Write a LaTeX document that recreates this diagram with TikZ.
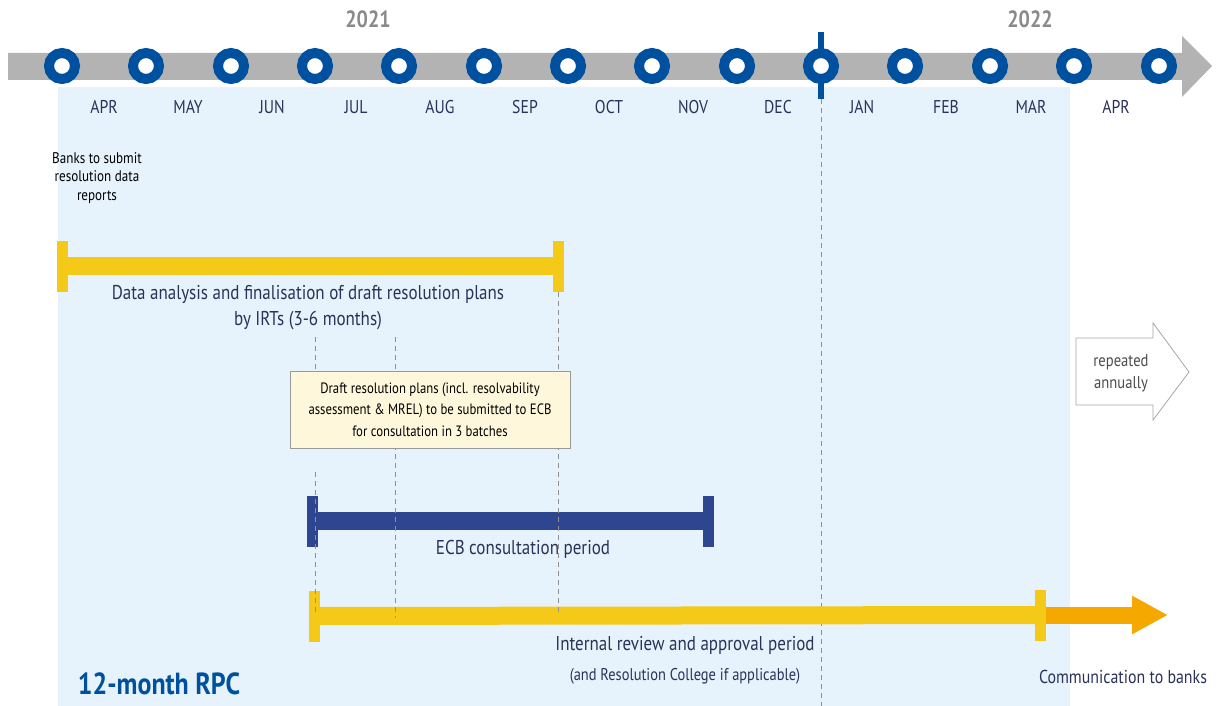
\documentclass[tikz,border=0pt]{standalone}
\usepackage{fontspec}
\setmainfont[FakeStretch=0.85]{PT Sans}
\usetikzlibrary{arrows.meta}
\definecolor{bgblue}{HTML}{E6F3FC}
\definecolor{bargrey}{HTML}{B3B3B3}
\definecolor{dotblue}{HTML}{0050A0}
\definecolor{yellowbar}{HTML}{F5C918}
\definecolor{orangebar}{HTML}{F5A800}
\definecolor{navybar}{HTML}{2E4690}
\definecolor{txt}{HTML}{2B3158}
\definecolor{yeargrey}{HTML}{8A8A8A}
\definecolor{boxfill}{HTML}{FFF7DC}
\definecolor{dashgrey}{HTML}{909090}
\begin{document}
\begin{tikzpicture}[x=1pt,y=-1pt,
  month/.style={text=txt,font=\fontsize{18.5}{20}\selectfont,inner sep=0pt},
  year/.style={text=yeargrey,font=\fontsize{23.5}{26}\selectfont\bfseries,inner sep=0pt},
  label/.style={text=txt,font=\fontsize{20}{26}\selectfont,inner sep=0pt,align=center},
  dot/.style={circle,draw=dotblue,line width=10pt,fill=white,minimum size=26pt,inner sep=0pt},
  guide/.style={dashgrey,line width=1pt,dash pattern=on 5pt off 4pt},
  capbox/.style={inner sep=0pt,minimum width=11pt,minimum height=51pt},
]
\useasboundingbox (0,0) rectangle (1218,706);
% background
\fill[bgblue] (58,87) rectangle (1070,706);
% timeline arrow
\fill[bargrey] (8,53) -- (1182,53) -- (1182,36) -- (1212,66) -- (1182,97) -- (1182,80) -- (8,80) -- cycle;
% year-end marker
\fill[dotblue] (818,32) rectangle (824,99);
\coordinate (ye) at (821,99);
\coordinate (yeb) at (821,706);
\draw[guide] (ye) -- (yeb);
% dots
\foreach \i/\x in {1/62,2/146,3/231,4/315,5/399,6/484,7/568,8/652,9/737,10/821,11/905,12/990,13/1074,14/1159}
  \node[dot] (d\i) at (\x,66) {};
% years
\node[year] (y2021) at (368,19) {2021};
\node[year] (y2022) at (1030,19) {2022};
% months
\foreach \n/\m/\x in {m1/APR/104,m2/MAY/188,m3/JUN/272,m4/JUL/356,m5/AUG/440,m6/SEP/525,m7/OCT/609,m8/NOV/693,m9/DEC/778,m10/JAN/862,m11/FEB/946,m12/MAR/1031,m13/APR/1116}
  \node[month] (\n) at (\x,107) {\m};
% banks note
\node[inner sep=0pt,align=center,font=\fontsize{15.4}{18.5}\selectfont] (banks) at (97,178) {Banks to submit\\resolution data\\reports};
% guides
\coordinate (g1a) at (315,337); \coordinate (g1b) at (315,370);
\coordinate (g1c) at (315,472); \coordinate (g1d) at (315,612);
\coordinate (g2a) at (395,337); \coordinate (g2b) at (395,618);
\coordinate (g3a) at (558,292); \coordinate (g3b) at (558,613);
% bar 1
\node[capbox,fill=yellowbar] (c1l) at (62,266) {};
\node[capbox,fill=yellowbar] (c1r) at (558,266) {};
\draw[yellowbar,line width=18pt] (c1l.center) -- (c1r.center);
\node[label] (l1) at (308,308) {Data analysis and finalisation of draft resolution plans\\by IRTs (3-6 months)};
% bar 2
\node[capbox,fill=navybar] (c2l) at (312,521) {};
\node[capbox,fill=navybar] (c2r) at (708,521) {};
\draw[navybar,line width=18pt] (c2l.center) -- (c2r.center);
\node[label] (l2) at (523,549) {ECB consultation period};
% bar 3
\coordinate (a3s) at (1045,615);
\coordinate (a3e) at (1168,615);
\draw[orangebar,line width=17pt,-{Triangle[width=36pt,length=36pt]}] (a3s) -- (a3e);
\node[capbox,fill=yellowbar] (c3l) at (314,616) {};
\node[capbox,fill=yellowbar] (c3r) at (1040,615) {};
\draw[yellowbar,line width=18pt] (c3l.center) -- (c3r.center);
\node[label] (l3) at (685,645) {Internal review and approval period};
\node[label,font=\fontsize{17}{20}\selectfont] (l3b) at (685,676) {(and Resolution College if applicable)};
\node[label,font=\fontsize{18.7}{20}\selectfont] (comm) at (1123,677) {Communication to banks};
% guides drawn over bars
\draw[guide] (g1a) -- (g1b);
\draw[guide] (g1c) -- (g1d);
\draw[guide] (g2a) -- (g2b);
\draw[guide] (g3a) -- (g3b);
% box
\node[draw=black!40,fill=boxfill,line width=0.8pt,minimum width=280pt,minimum height=77pt,inner sep=0pt,align=center,font=\fontsize{15}{21.5}\selectfont] (box) at (430,409.5) {Draft resolution plans (incl. resolvability\\assessment \& MREL) to be submitted to ECB\\for consultation in 3 batches};
% repeated annually arrow
\draw[black!35,fill=white,line width=0.8pt] (1076,338) -- (1153,338) -- (1153,323) -- (1189,372) -- (1153,420) -- (1153,405) -- (1076,405) -- cycle;
\node[inner sep=0pt,align=center,text=black!70,font=\fontsize{17.2}{22}\selectfont] (rep) at (1121,373) {repeated\\annually};
% RPC label
\node[inner sep=0pt,text=dotblue,font=\fontsize{30.5}{32}\selectfont\bfseries] (rpc) at (159,684) {12-month RPC};
\end{tikzpicture}
\end{document}
